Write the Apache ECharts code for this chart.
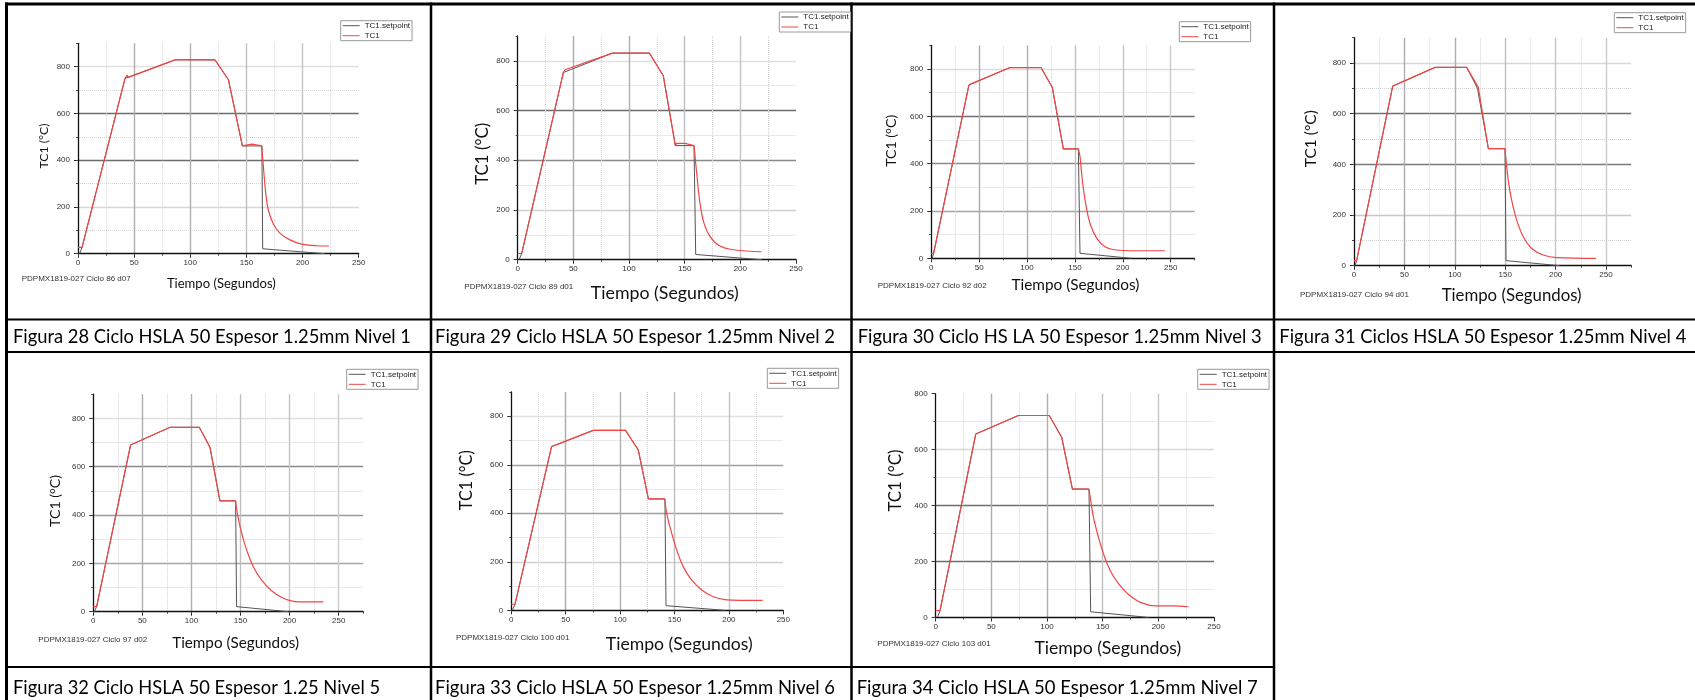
<!DOCTYPE html>
<html><head><meta charset="utf-8">
<script src="https://cdn.jsdelivr.net/npm/echarts@6/dist/echarts.min.js"></script>
<style>html,body{margin:0;padding:0;background:#fff}#c{width:1695px;height:700px}</style>
</head><body><div id="c"></div>
<script>
// ---------- text ----------
const captions = [
  'Figura 28 Ciclo HSLA 50 Espesor 1.25mm Nivel 1',
  'Figura 29 Ciclo HSLA 50 Espesor 1.25mm Nivel 2',
  'Figura 30 Ciclo HS LA 50 Espesor 1.25mm Nivel 3',
  'Figura 31 Ciclos HSLA 50 Espesor 1.25mm Nivel 4',
  'Figura 32 Ciclo HSLA 50 Espesor 1.25 Nivel 5',
  'Figura 33 Ciclo HSLA 50 Espesor 1.25mm Nivel 6',
  'Figura 34 Ciclo HSLA 50 Espesor 1.25mm Nivel 7'
];
const runLabels = [
  'PDPMX1819-027 Ciclo 86 d07','PDPMX1819-027 Ciclo 89 d01','PDPMX1819-027 Ciclo 92 d02',
  'PDPMX1819-027 Ciclo 94 d01','PDPMX1819-027 Ciclo 97 d02','PDPMX1819-027 Ciclo 100 d01',
  'PDPMX1819-027 Ciclo 103 d01'
];
const seriesNames = ['TC1.setpoint', 'TC1'];
const xAxisTitle = 'Tiempo (Segundos)';
const yAxisTitle = 'TC1 (°C)';
const xMaxes = [250, 250, 275, 275, 275, 250, 250];
const yMaxes = [900, 900, 900, 900, 900, 900, 800];
const xStep = 50, xMinorStep = 25, yStep = 200, yMinorStep = 100;

// ---------- data: [time s, temperature °C] ----------
// setpoint
const sp28 = [[1.5,0],[3.6,27],[41.9,750],[87,830],[122,829],[134,744],[146.4,461],[163.8,461],[164.5,21],[220,0]];
const sp29 = [[1.2,0],[3.6,25],[41,753],[85,831],[118.3,831],[130.8,740],[141.6,459],[158.4,459],[159.9,21],[219,0]];
const sp30 = [[1,0],[2.4,21],[39.3,732],[82.2,806],[114.6,806],[126.4,722],[137.9,462],[153.6,462],[155.3,21],[209,0]];
const sp31 = [[1,0],[2.6,20],[38.4,709],[80.4,783],[111.8,783],[122.5,700],[133.3,462],[149.8,462],[150.8,20],[204,0]];
const sp32 = [[1,0],[3.4,21],[38,690],[78.1,763],[108,763],[118.9,680],[129,459],[145,459],[146,21],[198.7,0]];
const sp33 = [[1,0],[3.4,25],[37,675],[75.4,742],[105,742],[116.7,661],[126,459],[141.2,459],[142.2,19],[196,0]];
const sp34 = [[1.5,0],[3.9,24],[36,656],[74.3,722],[102,722],[113.2,644],[122.8,459],[137.7,459],[139.2,20],[191,0]];
// TC1 heating / holding part
const tc28 = [[0,27],[3.6,27],[41.9,750],[43.6,763],[44.8,754],[87,830],[122,829],[134,744],[146.4,461],[147.5,469],[155,469],[163.6,461]];
const tc29 = [[0,25],[3.6,25],[41,753],[42.5,764],[44,756],[85,831],[118.3,831],[130.8,740],[141.6,459],[142.8,468],[150.3,468],[158.4,459]];
const tc30 = [[0,21],[2.4,21],[39.3,732],[41.4,737],[82.2,806],[114.6,806],[126.4,722],[137.9,462],[153.6,462]];
const tc31 = [[0,20],[2.6,20],[38.4,709],[39.7,716],[80.4,783],[111.8,783],[123.3,704],[133.3,462],[149.8,462]];
const tc32 = [[0,21],[3.4,21],[38,690],[78.1,763],[108,763],[118.9,680],[129,459],[145,459]];
const tc33 = [[0,25],[3.4,25],[37,675],[38.6,678],[75.4,742],[105,742],[116.7,661],[126,459],[141.2,459]];
const tc34 = [[0,24],[3.9,24],[36,656],[37.7,658],[74.3,722],[102,722],[113.2,644],[122.8,459],[137.7,459]];
// TC1 cooling part
const cool28 = [[163.6,461],[165.1,373],[167.2,259],[169.5,187],[174,127],[180,87],[188.8,59],[199.2,41],[212.6,34],[223.6,33]];
const cool29 = [[158.4,459],[160.8,348],[163.8,227],[167.4,146],[172.8,93],[181.7,55],[193.7,40],[205.7,35],[219,32]];
const cool30 = [[153.6,462],[155.3,430],[157.7,331],[161.2,232],[165.7,148],[172.7,85],[181.4,49],[193.6,35],[209.3,32],[244,32]];
const cool31 = [[149.8,462],[150.8,417],[153,338],[156.4,259],[161.4,180],[168,114],[176.3,68],[187.8,42],[201,32],[240,29]];
const cool32 = [[145,459],[146.7,407],[151.2,324],[156.3,255],[163,186],[171.5,131],[181.7,87],[192,59],[200.4,46],[210.6,41],[234.4,41]];
const cool33 = [[141.2,459],[142.8,400],[147.4,318],[152,249],[158,180],[165.7,125],[175,84],[185.7,56],[197.9,43],[210,41],[231,41]];
const cool34 = [[137.7,459],[139.2,420],[141.6,360],[146.1,288],[150.6,229],[156.6,169],[164,122],[173,83],[185,52],[198.5,41],[212,41],[227,38]];

const setpoints = [sp28, sp29, sp30, sp31, sp32, sp33, sp34];
const tc1s = [tc28, tc29, tc30, tc31, tc32, tc33, tc34];
const cools = [cool28, cool29, cool30, cool31, cool32, cool33, cool34];

// ---------- layout (pixels) ----------
const T = 'rgba(0,0,0,0)';
const L = [
  {l:78,    t:43.3,  w:280.7, h:210.4, yn:{w:45, off:34,   dy:-2.5}, xn:{w:109, dy:30,   dx:3},    pd:[21.7,278.3],  lg:[340.7,20.7],
   hc:[T,'#d6d6d6','#6e6e6e','#6e6e6e','#e2e2e2',T]},
  {l:517.7, t:36,    w:278.3, h:223.7, yn:{w:62, off:35.4, dy:6},    xn:{w:148, dy:33,   dx:8},    pd:[464.3,286.7], lg:[779.3,12],
   hc:[T,'#cfcfcf','#8a8a8a','#6e6e6e','#e2e2e2',T]},
  {l:931.3, t:45.3,  w:263.3, h:213,   yn:{w:52, off:39.6, dy:-11},  xn:{w:128, dy:26.7, dx:12.5}, pd:[877.7,286],   lg:[1179.3,21.7],
   hc:[T,'#a4a4a4','#8a8a8a','#6e6e6e','#dcdcdc',T]},
  {l:1354,  t:37.7,  w:277.2, h:228,   yn:{w:57, off:43.3, dy:-13},  xn:{w:140, dy:30,   dx:19},   pd:[1300,295],    lg:[1614.3,12.7],
   hc:[T,'#c8c8c8','#7a7a7a','#6e6e6e','#d8d8d8',T]},
  {l:93.3,  t:394.2, w:269.9, h:217.5, yn:{w:52, off:38,   dy:-2},   xn:{w:127, dy:31.6, dx:7.4},  pd:[38.3,639.3],  lg:[346.7,369.3],
   hc:[T,'#a8a8a8','#9a9a9a','#8a8a8a','#e0e0e0',T]},
  {l:511.3, t:392,   w:272,   h:218.3, yn:{w:60, off:44.6, dy:-21},  xn:{w:147, dy:34,   dx:32},   pd:[456,637.7],   lg:[767.3,368.3],
   hc:[T,'#d0d0d0','#a0a0a0','#a0a0a0','#e0e0e0',T]},
  {l:935.7, t:393.7, w:278.3, h:223.7, yn:{w:62, off:40,   dy:-25},  xn:{w:147, dy:31,   dx:33},   pd:[877.3,644],   lg:[1197.7,369.3],
   hc:[T,'#6e6e6e','#6e6e6e','#d8d8d8',T]}
];
const capPos = [[13,337,398],[435,337,400],[857.7,337,404],[1279.3,337,407],[13,688,367],[435,688,400],[856.7,688,401]];

const NF = 'Lato';
const TF = 'Liberation Sans';
const RED = '#f24545';
const mctx = document.createElement('canvas').getContext('2d');
function measure(text, size, fam){ mctx.font = size + 'px "' + fam + '"'; return mctx.measureText(text).width; }
function fitSize(text, width, fam){ return 100 * width / measure(text, 100, fam); }

const grids = [], xAxes = [], yAxes = [], series = [], legends = [], graphics = [];
L.forEach((g, i) => {
  const xm = xMaxes[i], ym = yMaxes[i];
  grids.push({left: g.l, top: g.t, width: g.w, height: g.h});
  const xfs = fitSize(xAxisTitle, g.xn.w, NF);
  const yfs = fitSize(yAxisTitle, g.yn.w, NF);
  const vcol = [T, '#acacac', '#aeaeae', '#bfbfbf', '#c4c4c4', '#cacaca', T];
  xAxes.push({
    type: 'value', gridIndex: i, position: 'bottom', min: 0, max: xm, interval: xStep,
    axisLine: {show: true, onZero: false, lineStyle: {color: '#111', width: 1.3}},
    axisTick: {show: true, length: 4, lineStyle: {color: '#222', width: 1}},
    axisLabel: {fontSize: 8, fontFamily: TF, color: '#333', margin: 5.5, showMinLabel: true, showMaxLabel: xm % xStep === 0},
    splitLine: {show: true, showMaxLine: false, lineStyle: {color: vcol, width: 1.4}},
    name: xAxisTitle, nameLocation: 'middle', nameGap: g.xn.dy - xfs / 2,
    nameTextStyle: {fontFamily: NF, fontSize: xfs, color: '#111', padding: [0, 0, 0, 2 * g.xn.dx]}
  });
  xAxes.push({
    type: 'value', gridIndex: i, position: 'bottom', min: 0, max: xm, interval: xMinorStep,
    axisLine: {show: false}, axisLabel: {show: false},
    axisTick: {show: true, length: 2, lineStyle: {color: '#444', width: 1}},
    splitLine: {show: true, showMaxLine: false, lineStyle: {color: [T, '#d4d4d4'], type: 'dotted', width: 1}}
  });
  const up = -g.yn.dy;
  yAxes.push({
    type: 'value', gridIndex: i, position: 'left', min: 0, max: ym, interval: yStep,
    axisLine: {show: true, onZero: false, lineStyle: {color: '#111', width: 1.3}},
    axisTick: {show: true, length: 4, lineStyle: {color: '#222', width: 1}},
    axisLabel: {fontSize: 8, fontFamily: TF, color: '#333', margin: 8, showMaxLabel: ym % yStep === 0},
    splitLine: {show: true, showMaxLine: false, lineStyle: {color: g.hc, width: 1.4}},
    name: yAxisTitle, nameLocation: 'middle', nameRotate: 90, nameGap: g.yn.off - yfs / 2,
    nameTextStyle: {fontFamily: NF, fontSize: yfs, color: '#111',
      padding: up >= 0 ? [0, 0, 0, 2 * up] : [0, -2 * up, 0, 0]}
  });
  yAxes.push({
    type: 'value', gridIndex: i, position: 'left', min: 0, max: ym, interval: yMinorStep,
    axisLine: {show: false}, axisLabel: {show: false},
    axisTick: {show: true, length: 2, lineStyle: {color: '#444', width: 1}},
    splitLine: {show: true, showMaxLine: false, lineStyle: {color: [T, '#d4d4d4'], type: 'dotted', width: 1}}
  });
  series.push({
    type: 'line', name: seriesNames[0], xAxisIndex: 2 * i, yAxisIndex: 2 * i, data: setpoints[i],
    symbol: 'none', silent: true, z: 3,
    lineStyle: {color: '#555', width: 1}, itemStyle: {color: '#555'}
  });
  series.push({
    type: 'line', name: seriesNames[1], xAxisIndex: 2 * i, yAxisIndex: 2 * i, data: tc1s[i],
    symbol: 'none', silent: true, z: 4,
    lineStyle: {color: RED, width: 1.2}, itemStyle: {color: RED}
  });
  series.push({
    type: 'line', name: seriesNames[1], xAxisIndex: 2 * i, yAxisIndex: 2 * i, data: cools[i],
    symbol: 'none', silent: true, z: 4, smooth: 0.4,
    lineStyle: {color: RED, width: 1.2}, itemStyle: {color: RED}
  });
  legends.push({
    show: true, left: g.lg[0], top: g.lg[1], orient: 'vertical', data: seriesNames,
    icon: 'rect', itemWidth: 17, itemHeight: 1, itemGap: 0, padding: [0, 2, 0, 2],
    borderColor: '#999', borderWidth: 1, backgroundColor: '#fff', selectedMode: false,
    textStyle: {fontSize: 8, fontFamily: TF, color: '#222', lineHeight: 10}
  });
  graphics.push({
    type: 'text', x: g.pd[0], y: g.pd[1], silent: true,
    style: {text: runLabels[i], fontSize: 8, fontFamily: TF, fill: '#333', verticalAlign: 'middle', align: 'left'}
  });
});

// captions
captions.forEach((c, i) => {
  const p = capPos[i];
  const fs = 19;
  const sx = p[2] / measure(c, fs, NF);
  graphics.push({
    type: 'text', x: p[0], y: p[1], scaleX: sx, silent: true,
    style: {text: c, fontSize: fs, fontFamily: NF, fill: '#000', verticalAlign: 'middle', align: 'left'}
  });
});

// table borders
function hline(x1, x2, y, w){ graphics.push({type:'line', silent:true, shape:{x1:x1, y1:y, x2:x2, y2:y}, style:{stroke:'#000', lineWidth:w}}); }
function vline(x, y1, y2, w){ graphics.push({type:'line', silent:true, shape:{x1:x, y1:y1, x2:x, y2:y2}, style:{stroke:'#000', lineWidth:w}}); }
hline(5, 1695, 4, 3);
hline(5, 1695, 319.5, 2);
hline(5, 1695, 352, 2);
hline(5, 1275, 667, 2);
vline(6.5, 2.5, 700, 3);
vline(431, 2.5, 700, 2.5);
vline(851.5, 2.5, 700, 2.5);
vline(1274, 2.5, 700, 2.5);

const chart = echarts.init(document.getElementById('c'), null, {renderer: 'canvas', width: 1695, height: 700});
chart.setOption({
  animation: false,
  backgroundColor: '#fff',
  grid: grids, xAxis: xAxes, yAxis: yAxes, series: series, legend: legends,
  graphic: {elements: graphics}
});
</script>
</body></html>
